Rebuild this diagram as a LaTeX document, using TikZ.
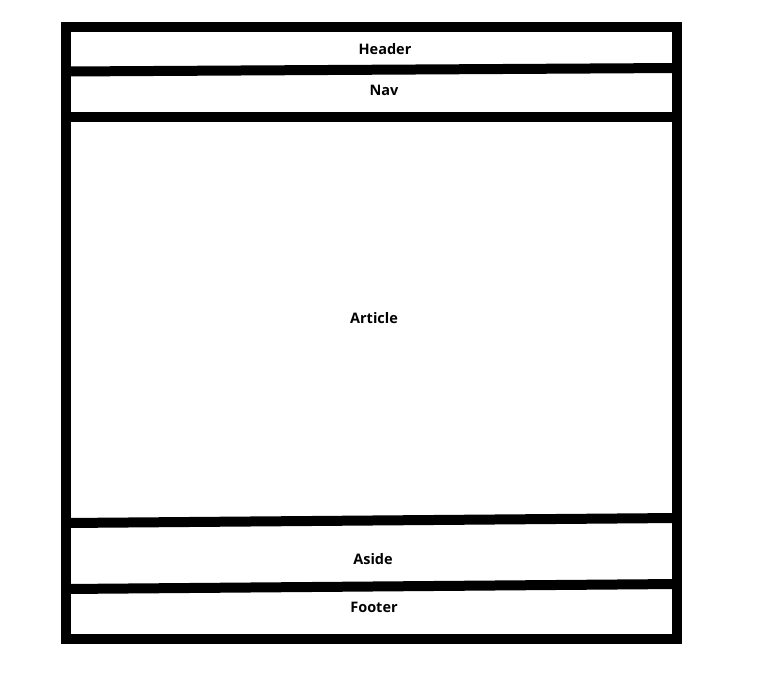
\documentclass[tikz,border=0pt]{standalone}
\usepackage{fontspec}
\setmainfont{Open Sans}
\begin{document}
\begin{tikzpicture}[x=1pt,y=-1pt,
  frame/.style={line width=10pt,draw=black},
  lbl/.style={font=\fontsize{14.5}{17}\selectfont\bfseries,inner sep=0pt}]
\useasboundingbox (0,0) rectangle (762,672);
\fill[white] (0,0) rectangle (762,672);
\draw[frame] (66,27) rectangle (677,639);
\coordinate (hnL) at (66,71.5);
\coordinate (hnR) at (677,68);
\coordinate (naL) at (61,117);
\coordinate (naR) at (677,117);
\coordinate (aaL) at (66,523);
\coordinate (aaR) at (677,518);
\coordinate (afL) at (66,589);
\coordinate (afR) at (677,584);
\draw[frame] (hnL) -- (hnR);
\draw[frame] (naL) -- (naR);
\draw[frame] (aaL) -- (aaR);
\draw[frame] (afL) -- (afR);
\node[lbl] (header) at (385,49) {Header};
\node[lbl] (nav) at (384,90) {Nav};
\node[lbl] (article) at (374,318) {Article};
\node[lbl] (aside) at (373,559) {Aside};
\node[lbl] (footer) at (374,607) {Footer};
\end{tikzpicture}
\end{document}
